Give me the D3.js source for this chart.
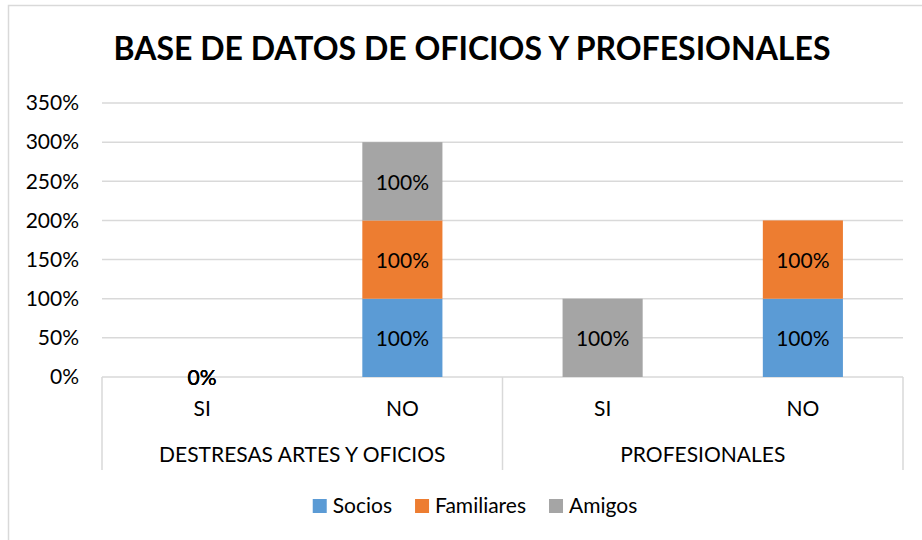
<!DOCTYPE html>
<html>
<head>
<meta charset="utf-8">
<script src="https://cdn.jsdelivr.net/npm/d3@7/dist/d3.min.js"></script>
<style>
  html, body { margin: 0; padding: 0; background: #fff; }
  svg { display: block; font-family: Lato, "Open Sans", sans-serif; }
</style>
</head>
<body>
<div id="chart"></div>
<script>
// Data
const groups = ['DESTRESAS ARTES Y OFICIOS', 'PROFESIONALES'];
const categories = ['SI', 'NO', 'SI', 'NO'];
const categoryGroup = [0, 0, 1, 1];
const seriesNames = ['Socios', 'Familiares', 'Amigos'];
const socios = [0, 1, null, 1];
const familiares = [0, 1, null, 1];
const amigos = [0, 1, 1, null];
const yTicks = [0, 0.5, 1, 1.5, 2, 2.5, 3, 3.5];
const colors = ['#5B9BD5', '#ED7D31', '#A5A5A5'];

const width = 922, height = 540;
const plot = { left: 102, right: 903, top: 103, bottom: 377 };
const fontSize = '21px';

const svg = d3.select('#chart').append('svg')
    .attr('width', width)
    .attr('height', height);

// Chart border
svg.append('rect')
    .attr('x', 8.5).attr('y', 5.5)
    .attr('width', width + 20).attr('height', height + 20)
    .attr('fill', '#fff')
    .attr('stroke', '#d9d9d9')
    .attr('stroke-width', 1.5);

// Title
svg.append('text')
    .attr('x', 472).attr('y', 60)
    .attr('text-anchor', 'middle')
    .attr('font-size', '32px')
    .attr('font-weight', 'bold')
    .attr('fill', '#000')
    .text('BASE DE DATOS DE OFICIOS Y PROFESIONALES');

// Scales
const idx = categories.map((d, i) => i);
const x = d3.scaleBand()
    .domain(idx)
    .range([plot.left, plot.right])
    .paddingInner(0.6)
    .paddingOuter(0.3);

const y = d3.scaleLinear()
    .domain([0, 3.5])
    .range([plot.bottom, plot.top]);

// Gridlines
svg.append('g').attr('class', 'grid')
    .selectAll('line')
    .data(yTicks.filter(d => d > 0))
    .join('line')
    .attr('x1', plot.left).attr('x2', plot.right)
    .attr('y1', d => y(d)).attr('y2', d => y(d))
    .attr('stroke', '#d9d9d9')
    .attr('stroke-width', 1.5);

// Y axis labels
const yAxis = d3.axisLeft(y)
    .tickValues(yTicks)
    .tickFormat(d3.format('.0%'))
    .tickSize(0)
    .tickPadding(23);

svg.append('g')
    .attr('transform', `translate(${plot.left},0)`)
    .call(yAxis)
    .call(g => g.select('.domain').remove())
    .selectAll('text')
    .attr('font-family', 'Lato, "Open Sans", sans-serif')
    .attr('font-size', fontSize)
    .attr('fill', '#000');

// Category axis (bottom) with group boxes
const axisG = svg.append('g').attr('class', 'x-axis');
axisG.append('line')
    .attr('x1', plot.left).attr('x2', plot.right)
    .attr('y1', plot.bottom).attr('y2', plot.bottom)
    .attr('stroke', '#d9d9d9')
    .attr('stroke-width', 1.5);

const dividers = [plot.left, (x(1) + x(2) + x.bandwidth()) / 2, plot.right];
axisG.selectAll('.divider')
    .data(dividers)
    .join('line')
    .attr('class', 'divider')
    .attr('x1', d => d).attr('x2', d => d)
    .attr('y1', plot.bottom).attr('y2', 470)
    .attr('stroke', '#d9d9d9')
    .attr('stroke-width', 1.5);

axisG.selectAll('.cat')
    .data(idx)
    .join('text')
    .attr('class', 'cat')
    .attr('x', d => x(d) + x.bandwidth() / 2)
    .attr('y', 409)
    .attr('dy', '0.35em')
    .attr('text-anchor', 'middle')
    .attr('font-size', fontSize)
    .attr('fill', '#000')
    .text(d => categories[d]);

axisG.selectAll('.grp')
    .data(groups)
    .join('text')
    .attr('class', 'grp')
    .attr('x', (d, g) => {
        const members = idx.filter(i => categoryGroup[i] === g);
        return d3.mean(members, i => x(i) + x.bandwidth() / 2);
    })
    .attr('y', 455)
    .attr('dy', '0.35em')
    .attr('text-anchor', 'middle')
    .attr('font-size', fontSize)
    .attr('fill', '#000')
    .text(d => d);

// Stacked data
const series = [socios, familiares, amigos];
const stackData = idx.map(i => {
    const row = { i };
    seriesNames.forEach((s, k) => { row[s] = series[k][i]; });
    return row;
});
const stacked = d3.stack()
    .keys(seriesNames)
    .value((d, key) => d[key] || 0)(stackData);

const barsG = svg.append('g').attr('class', 'bars');
stacked.forEach((layer, k) => {
    barsG.append('g')
        .attr('fill', colors[k])
        .selectAll('rect')
        .data(layer.filter(d => d.data[seriesNames[k]]))
        .join('rect')
        .attr('x', d => x(d.data.i))
        .attr('width', x.bandwidth())
        .attr('y', d => y(d[1]))
        .attr('height', d => y(d[0]) - y(d[1]));
});

// Data labels
const labelsG = svg.append('g').attr('class', 'labels');
stacked.forEach((layer, k) => {
    labelsG.selectAll(null)
        .data(layer.filter(d => d.data[seriesNames[k]] !== null))
        .join('text')
        .attr('x', d => x(d.data.i) + x.bandwidth() / 2)
        .attr('y', d => (y(d[0]) + y(d[1])) / 2 + 1)
        .attr('dy', '0.35em')
        .attr('text-anchor', 'middle')
        .attr('font-size', fontSize)
        .attr('fill', '#000')
        .text(d => d3.format('.0%')(d.data[seriesNames[k]]));
});

// Legend
const legend = svg.append('g').attr('class', 'legend');
const items = seriesNames.map((name, k) => {
    const g = legend.append('g');
    g.append('rect')
        .attr('width', 14).attr('height', 14)
        .attr('y', -7)
        .attr('fill', colors[k]);
    const t = g.append('text')
        .attr('x', 20)
        .attr('dy', '0.35em')
        .attr('font-size', fontSize)
        .attr('fill', '#000')
        .text(name);
    return { g, w: 20 + t.node().getComputedTextLength() };
});
const gap = 23;
const total = d3.sum(items, d => d.w) + gap * (items.length - 1);
let lx = 475 - total / 2;
items.forEach(it => {
    it.g.attr('transform', `translate(${lx},506)`);
    lx += it.w + gap;
});
</script>
</body>
</html>
